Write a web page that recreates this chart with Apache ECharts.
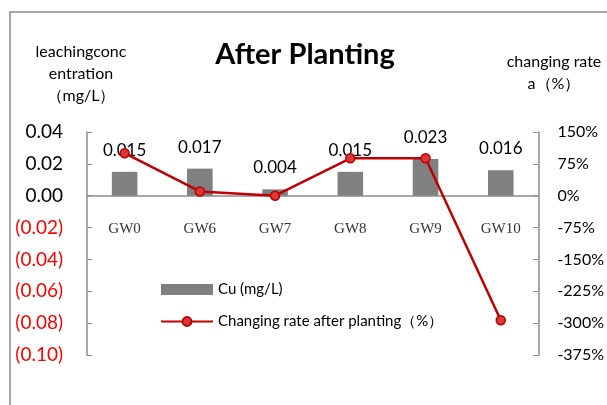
<!DOCTYPE html>
<html>
<head>
<meta charset="utf-8">
<script src="https://cdn.jsdelivr.net/npm/echarts@6/dist/echarts.min.js"></script>
<style>
html,body{margin:0;padding:0;background:#fff;}
#chart{width:607px;height:405px;}
</style>
</head>
<body>
<div id="chart"></div>
<script>
// Sampling wells and their measured values
const categories = ['GW0', 'GW6', 'GW7', 'GW8', 'GW9', 'GW10'];
const cuValues = [0.015, 0.017, 0.004, 0.015, 0.023, 0.016];
const changingRate = [100, 10, 0, 88, 88, -293];

const FONT = 'Lato, "Noto Sans", sans-serif';

const chart = echarts.init(document.getElementById('chart'));
chart.setOption({
  backgroundColor: '#ffffff',
  animation: false,
  title: {
    text: 'After Planting',
    left: 300,
    top: 35,
    textAlign: 'center',
    textStyle: { fontFamily: FONT, fontSize: 29, fontWeight: 'bold', color: '#000' }
  },
  graphic: [{
    type: 'rect',
    shape: { x: 10, y: 12, width: 640, height: 440 },
    style: { fill: 'none', stroke: '#8c8c8c', lineWidth: 1.5 },
    silent: true
  }, {
    type: 'text',
    x: 81, y: 41,
    style: {
      text: 'leachingconc\nentration\n（mg/L）',
      fontFamily: FONT, fontSize: 16, lineHeight: 22, fill: '#000', align: 'center'
    }
  }, {
    type: 'text',
    x: 554, y: 51,
    style: {
      text: 'changing rate\na（%）',
      fontFamily: FONT, fontSize: 16, lineHeight: 22, fill: '#000', align: 'center'
    }
  }],
  legend: {
    orient: 'vertical',
    left: 155,
    top: 277,
    itemGap: 17,
    itemWidth: 52,
    itemHeight: 11,
    textStyle: { fontFamily: FONT, fontSize: 15, color: '#000' },
    data: [
      { name: 'Cu (mg/L)', icon: 'rect' },
      { name: 'Changing rate after planting（%）' }
    ]
  },
  grid: { left: 87, right: 66, top: 132, bottom: 50 },
  xAxis: {
    type: 'category',
    data: categories,
    axisLine: { onZero: true, lineStyle: { color: '#8c8c8c', width: 1.5 } },
    axisTick: { inside: true, length: 5, lineStyle: { color: '#8c8c8c' } },
    // category names sit just under the zero line
    axisLabel: {
      inside: true,
      margin: 118,
      fontFamily: '"Liberation Serif", serif', fontSize: 15, color: '#333'
    }
  },
  yAxis: [{
    type: 'value',
    min: -0.10, max: 0.04, interval: 0.02,
    axisLine: { show: true, lineStyle: { color: '#8c8c8c', width: 1.5 } },
    axisTick: { show: true, inside: true, length: 5, lineStyle: { color: '#8c8c8c' } },
    splitLine: { show: false },
    axisLabel: {
      margin: 24,
      fontFamily: FONT, fontSize: 19, color: '#000',
      formatter: function (v) {
        const s = Math.abs(v).toFixed(2);
        return v < -1e-9 ? '{neg|(' + s + ')}' : s;
      },
      rich: { neg: { color: '#ff0000', fontFamily: FONT, fontSize: 19 } }
    }
  }, {
    type: 'value',
    min: -375, max: 150, interval: 75,
    position: 'right',
    axisLine: { show: true, lineStyle: { color: '#8c8c8c', width: 1.5 } },
    axisTick: { show: true, inside: true, length: 5, lineStyle: { color: '#8c8c8c' } },
    splitLine: { show: false },
    axisLabel: {
      margin: 19,
      fontFamily: FONT, fontSize: 16, color: '#000',
      formatter: function (v) { return v + '%'; }
    }
  }],
  series: [{
    name: 'Cu (mg/L)',
    type: 'bar',
    data: cuValues,
    barWidth: '34%',
    itemStyle: { color: '#808080' },
    label: {
      show: true,
      position: 'top',
      distance: 13,
      fontFamily: FONT, fontSize: 17, color: '#000',
      formatter: function (p) { return p.value.toFixed(3); }
    }
  }, {
    name: 'Changing rate after planting（%）',
    type: 'line',
    yAxisIndex: 1,
    data: changingRate,
    symbol: 'circle',
    symbolSize: 9,
    lineStyle: { color: '#c00000', width: 2.5 },
    itemStyle: { color: '#d9383a', borderColor: '#c00000', borderWidth: 1.5 }
  }]
});
</script>
</body>
</html>
